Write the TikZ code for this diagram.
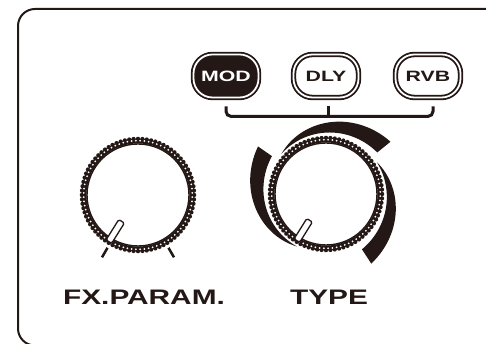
\documentclass[tikz,border=0pt]{standalone}
\usepackage{fontspec}
\newfontfamily\panelfont{Liberation Sans}[FakeStretch=1.42]
\usetikzlibrary{positioning}
\definecolor{ink}{HTML}{231815}
\tikzset{
  fxbtn/.style={draw=ink, line width=1.8pt, double=white, double distance=1.8pt,
    rounded corners=19pt, minimum width=65pt, minimum height=43pt, inner sep=0pt,
    font=\panelfont\bfseries\fontsize{15}{15}\selectfont},
  fxlabel/.style={anchor=base, text=ink, font=\panelfont\bfseries\fontsize{21}{21}\selectfont},
  bracket/.style={draw=ink, line width=3pt, rounded corners=5pt},
  knob/.style={circle, minimum size=114pt, inner sep=0pt},
}
\begin{document}
\begin{tikzpicture}[x=1pt, y=1pt, ink]
  \useasboundingbox (0,0) rectangle (486,344);
  % panel frame
  \draw[line width=2pt, rounded corners=17pt] (500,335) -- (18,335) -- (18,-1.5) -- (500,-1.5);
  % type buttons
  \node[fxbtn, fill=ink, text=white] (mod) at (226,268) {MOD};
  \node[fxbtn, fill=white] (dly) at (326,268) {DLY};
  \node[fxbtn, fill=white] (rvb) at (428,268) {RVB};
  \draw[bracket] ([yshift=-8pt]mod.south) -- ++(0,-10) -| ([xshift=5pt,yshift=-8pt]rvb.south);
  \draw[bracket] ([xshift=2pt,yshift=-8pt]dly.south) -- ++(0,-10);
  % knobs
  \node[knob] (param) at (138,149) {};
  \node[knob] (type) at (326,150) {};
  \foreach \k in {param,type} {
    \begin{scope}[shift={(\k.center)}]
      \draw[line width=1.4pt] (0,0) circle (51);
      \draw[line width=5pt] (0,0) circle (54);
      \foreach \a in {0,4.5,...,355.5}
        \fill (\a:56.2) circle (2.1);
      \foreach \a in {2.25,6.75,...,357.75}
        \fill[white] (\a:54.3) circle (1);
      \draw[line width=1.3pt, fill=white, rounded corners=1.5pt, rotate=238] (31,-3.3) rectangle (55,3.3);
    \end{scope}
  }
  \foreach \a in {240,300}
    \draw[line width=2.5pt] (param.center) ++(\a:61) -- ++(\a:11);
  % type ranges
  \foreach \s/\e in {241/145, 138/39, 32/-57}
    \fill[shift={(type.center)}] plot[domain=0:1, samples=30] ({\s+(\e-\s)*\x}:{60+23*\x})
      -- plot[domain=1:0, samples=30] ({\s+(\e-\s)*\x}:{60+6*\x*\x}) -- cycle;
  % labels
  \node[fxlabel] (fxname) at (144,39) {FX.PARAM.};
  \node[fxlabel] (typename) at (329,39) {TYPE};
\end{tikzpicture}
\end{document}
